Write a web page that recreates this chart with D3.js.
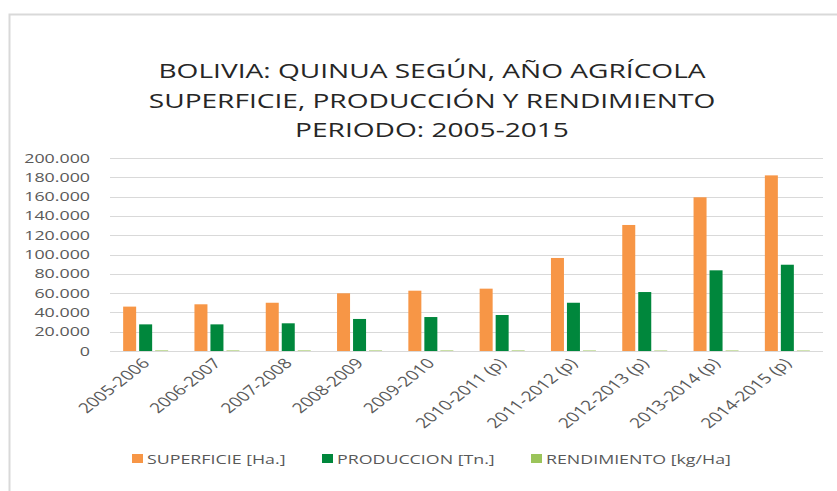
<!DOCTYPE html>
<html>
<head>
<meta charset="utf-8">
<script src="https://cdn.jsdelivr.net/npm/d3@7"></script>
<style>
  body { margin: 0; background: #fff; }
  text { font-family: "Open Sans", sans-serif; }
</style>
</head>
<body>
<script>
// data
var categories = ["2005-2006", "2006-2007", "2007-2008", "2008-2009", "2009-2010",
  "2010-2011 (p)", "2011-2012 (p)", "2012-2013 (p)", "2013-2014 (p)", "2014-2015 (p)"];
var superficie = [46000, 48400, 50000, 59800, 62500, 64600, 96400, 130600, 159300, 182000];
var produccion = [27600, 27600, 28700, 33200, 35200, 37300, 50000, 61100, 83600, 89400];
var rendimiento = [600, 570, 574, 556, 564, 577, 519, 468, 525, 491];
var seriesNames = ["SUPERFICIE [Ha.]", "PRODUCCION [Tn.]", "RENDIMIENTO [kg/Ha]"];
var seriesColors = ["#f79646", "#00873c", "#9bc45a"];
var yTicks = [0, 20000, 40000, 60000, 80000, 100000, 120000, 140000, 160000, 180000, 200000];
var titleLines = ["BOLIVIA: QUINUA SEGÚN, AÑO AGRÍCOLA",
  "SUPERFICIE, PRODUCCIÓN Y RENDIMIENTO",
  "PERIODO: 2005-2015"];

var w = 837, h = 491;
var margin = {top: 158, bottom: 140, left: 110, right: 14};
var sx = 1.37; // the picture is stretched sideways, so text is too

var svg = d3.select("body").append("svg")
    .attr("width", w)
    .attr("height", h)

// chart frame
svg.append("rect")
  .attr("x", 9.5).attr("y", 14.5)
  .attr("width", w).attr("height", h)
  .attr("fill", "none").attr("stroke", "#d9d9d9").attr("stroke-width", 2)

// title
svg.append("g").selectAll("text").data(titleLines).enter().append("text")
  .attr("transform", function(d, i) { return "translate(432," + (78 + i * 29.5) + ") scale(" + sx + ",1)"; })
  .attr("text-anchor", "middle")
  .attr("font-size", "20.5px")
  .attr("fill", "#262626")
  .text(function(d) { return d; })

var xScale = d3.scaleBand()
  .domain(categories)
  .range([margin.left, w - margin.right])

var x1 = d3.scaleBand()
  .domain([0, 1, 2])
  .range([-22.5, 22.5])
  .paddingInner(0.1875)

var yScale = d3.scaleLinear()
  .domain([0, 200000])
  .range([h - margin.bottom, margin.top])

var loc = d3.formatLocale({decimal: ",", thousands: ".", grouping: [3], currency: ["", ""]});
var fmt = loc.format(",");

// gridlines
svg.append("g").selectAll("line").data(yTicks).enter().append("line")
  .attr("x1", margin.left).attr("x2", w - margin.right)
  .attr("y1", function(d) { return Math.round(yScale(d)) + 0.5; })
  .attr("y2", function(d) { return Math.round(yScale(d)) + 0.5; })
  .attr("stroke", "#d9d9d9")

// y labels
svg.append("g").selectAll("text").data(yTicks).enter().append("text")
  .attr("transform", function(d) { return "translate(90," + (yScale(d) + 4.5) + ") scale(" + sx + ",1)"; })
  .attr("text-anchor", "end")
  .attr("font-size", "13px")
  .attr("fill", "#595959")
  .text(function(d) { return fmt(d); })

// bars
var allSeries = [superficie, produccion, rendimiento];
allSeries.forEach(function(vals, s) {
  svg.append("g").selectAll("rect").data(vals).enter().append("rect")
    .attr("x", function(d, i) { return xScale(categories[i]) + xScale.bandwidth() / 2 + x1(s); })
    .attr("width", x1.bandwidth())
    .attr("y", function(d) { return yScale(d); })
    .attr("height", function(d) { return yScale(0) - yScale(d); })
    .attr("fill", seriesColors[s])
})

// x labels
svg.append("g").selectAll("text").data(categories).enter().append("text")
  .attr("transform", function(d) {
    return "translate(" + (xScale(d) + xScale.bandwidth() / 2 + 5) + ",364) scale(" + sx + ",1) rotate(-47)";
  })
  .attr("text-anchor", "end")
  .attr("font-size", "14px")
  .attr("fill", "#595959")
  .text(function(d) { return d; })

// legend
var legendX = [132, 322, 531];
var legend = svg.append("g").selectAll("g").data(seriesNames).enter().append("g")
  .attr("transform", function(d, i) { return "translate(" + legendX[i] + ",454)"; })
legend.append("rect")
  .attr("width", 11).attr("height", 9)
  .attr("fill", function(d, i) { return seriesColors[i]; })
legend.append("text")
  .attr("transform", "translate(15,9.5) scale(" + sx + ",1)")
  .attr("font-size", "13px")
  .attr("fill", "#595959")
  .text(function(d) { return d; })
</script>
</body>
</html>
